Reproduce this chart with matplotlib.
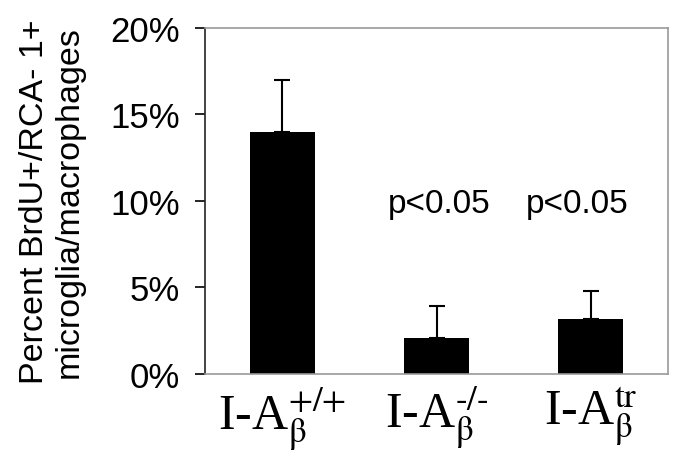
import matplotlib
matplotlib.use("Agg")
import matplotlib.pyplot as plt
from matplotlib.ticker import FuncFormatter

# data
groups = [r"I-A$_{\text{β}}^{\text{+/+}}$", r"I-A$_{\text{β}}^{\text{-/-}}$", r"I-A$_{\text{β}}^{\text{tr}}$"]
pct = [14.0, 2.1, 3.2]
err_up = [3.0, 1.8, 1.6]
pvals = ["", "p<0.05", "p<0.05"]
yticks = [0, 5, 10, 15, 20]

plt.rcParams["font.family"] = "Liberation Sans"
plt.rcParams["mathtext.fontset"] = "stix"

fig = plt.figure(figsize=(6.81, 4.6), dpi=100)
ax = fig.add_axes([0.301, 0.185, 0.680, 0.752])

x = range(len(groups))
ax.bar(x, pct, width=0.42, color="black",
       yerr=[[0] * len(pct), err_up], capsize=6,
       error_kw=dict(elinewidth=1.5, capthick=1.5, ecolor="black"))

# significance labels
ax.text(1.02, 9.36, pvals[1], ha="center", va="baseline", fontsize=24)
ax.text(1.91, 9.36, pvals[2], ha="center", va="baseline", fontsize=24)

ax.set_xlim(-0.5, 2.5)
ax.set_ylim(0, 20)
ax.set_yticks(yticks)
ax.yaxis.set_major_formatter(FuncFormatter(lambda v, p: "%d%%" % v))
ax.tick_params(axis="y", direction="out", length=7, width=1.2, labelsize=25, pad=11)

ax.set_xticks(list(x))
ax.set_xticklabels(groups, family="Liberation Serif", fontsize=36)
ax.tick_params(axis="x", length=0, pad=7)

for side in ["top", "right", "bottom"]:
    ax.spines[side].set_color("#999999")
    ax.spines[side].set_linewidth(1.2)
ax.spines["left"].set_color("#222222")
ax.spines["left"].set_linewidth(1.2)

fig.text(0.076, 0.561, "Percent BrdU+/RCA- 1+\nmicroglia/macrophages",
         rotation=90, ha="center", va="center", fontsize=24.5, linespacing=1.15,
         multialignment="center")

fig.savefig("out.png", dpi=100)
